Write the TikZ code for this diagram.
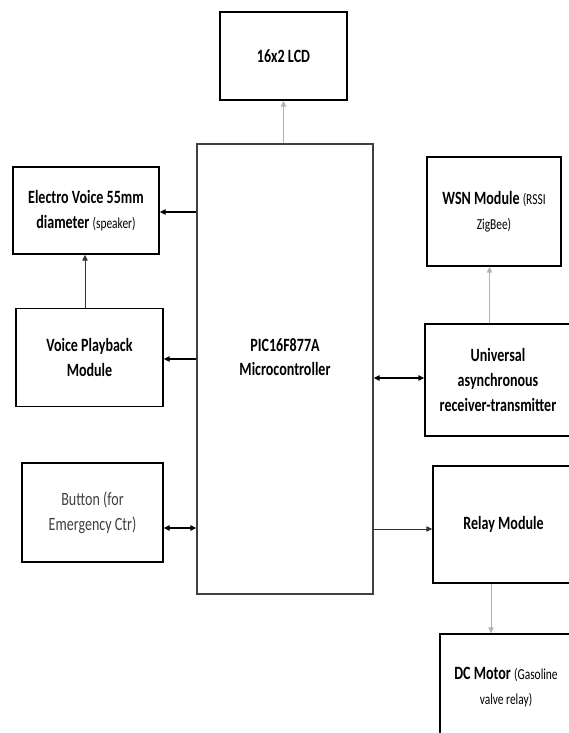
\documentclass[tikz,border=0pt]{standalone}
\usepackage{fontspec}
\setmainfont{Carlito}[FakeStretch=0.75]
\usepackage{tikz}
\usetikzlibrary{arrows.meta, positioning, calc}
\newcommand{\smalltxt}[1]{{\mdseries\fontsize{13}{21}\selectfont #1}}

\begin{document}
\begin{tikzpicture}[
  x=0.03cm, y=-0.03cm,
  box/.style     = {rectangle, draw=black, line width=1.2pt, align=center,
                    font=\fontsize{16}{21}\selectfont\bfseries, inner sep=2pt},
  plainbox/.style= {box, font=\fontsize{16}{21}\selectfont, text=black!75},
  mcubox/.style  = {rectangle, draw=black!75, line width=1.1pt,
                    minimum width=5.28cm, minimum height=13.5cm},
  mcutxt/.style  = {align=center, font=\fontsize{16}{21}\selectfont\bfseries,
                    yshift=0.36cm},
  thin/.style    = {-{Triangle[length=5pt, width=4.5pt]}, line width=0.6pt, gray!60},
  mid/.style     = {-{Triangle[length=5pt, width=4.5pt]}, line width=0.8pt, black!80},
  heavy/.style   = {-{Triangle[length=5pt, width=4.5pt]}, line width=1.5pt, black},
  both/.style    = {{Triangle[length=5pt, width=4.5pt]}-{Triangle[length=5pt, width=4.5pt]},
                    line width=1.1pt, black}
]
\clip (0,0) rectangle (569,733);

\node[box, minimum width=3.81cm, minimum height=2.64cm] (lcd)   at (283.5, 56)  {16x2 LCD};
\node[mcubox, label={[mcutxt]center:PIC16F877A\\Microcontroller}] (mcu) at (285, 369) {};
\node[box, minimum width=4.38cm, minimum height=2.61cm] (spk)   at (86, 210.5)  {Electro Voice 55mm\\diameter \smalltxt{(speaker)}};
\node[box, minimum width=4.41cm, minimum height=2.94cm] (vpm)   at (89.5, 357.5) {Voice Playback\\Module};
\node[plainbox, minimum width=4.23cm, minimum height=2.97cm] (btn) at (92.5, 512.5) {Button (for\\Emergency Ctr)};
\node[box, minimum width=4.02cm, minimum height=3.27cm] (wsn)   at (494, 211.5) {WSN Module \smalltxt{(RSSI}\\\smalltxt{ZigBee)}};
\node[box, minimum width=4.38cm, minimum height=3.36cm] (uart)  at (498, 380)   {Universal\\asynchronous\\receiver-transmitter};
\node[box, minimum width=4.23cm, minimum height=3.51cm] (relay) at (503.5, 524.5) {Relay Module};
\node[box, minimum width=3.96cm, minimum height=3.18cm] (dcm)   at (506, 687)   {DC Motor \smalltxt{(Gasoline}\\\smalltxt{valve relay)}};

\draw[thin]  (lcd.south |- mcu.north) -- (lcd.south);
\draw[heavy] ($(mcu.west |- spk.east)+(0,1.5)$) -- ($(spk.east)+(0,1.5)$);
\draw[mid]   ($(spk.south |- vpm.north)+(-1,0)$) -- ($(spk.south)+(-1,0)$);
\draw[heavy] ($(mcu.west |- vpm.east)+(0,1.5)$) -- ($(vpm.east)+(0,1.5)$);
\draw[both]  ($(btn.east)+(0,15.5)$) -- ($(mcu.west |- btn.east)+(0,15.5)$);
\draw[both]  ($(mcu.east |- uart.west)+(0,-2)$) -- ($(uart.west)+(0,-2)$);
\draw[thin]  ($(wsn.south |- uart.north)+(-4.5,0)$) -- ($(wsn.south)+(-4.5,0)$);
\draw[mid, line width=0.7pt] ($(mcu.east |- relay.west)+(0,4.5)$) -- ($(relay.west)+(0,4.5)$);
\draw[thin, line width=0.7pt] ($(relay.south)+(-12.5,0)$) -- ($(relay.south |- dcm.north)+(-12.5,0)$);
\end{tikzpicture}
\end{document}
